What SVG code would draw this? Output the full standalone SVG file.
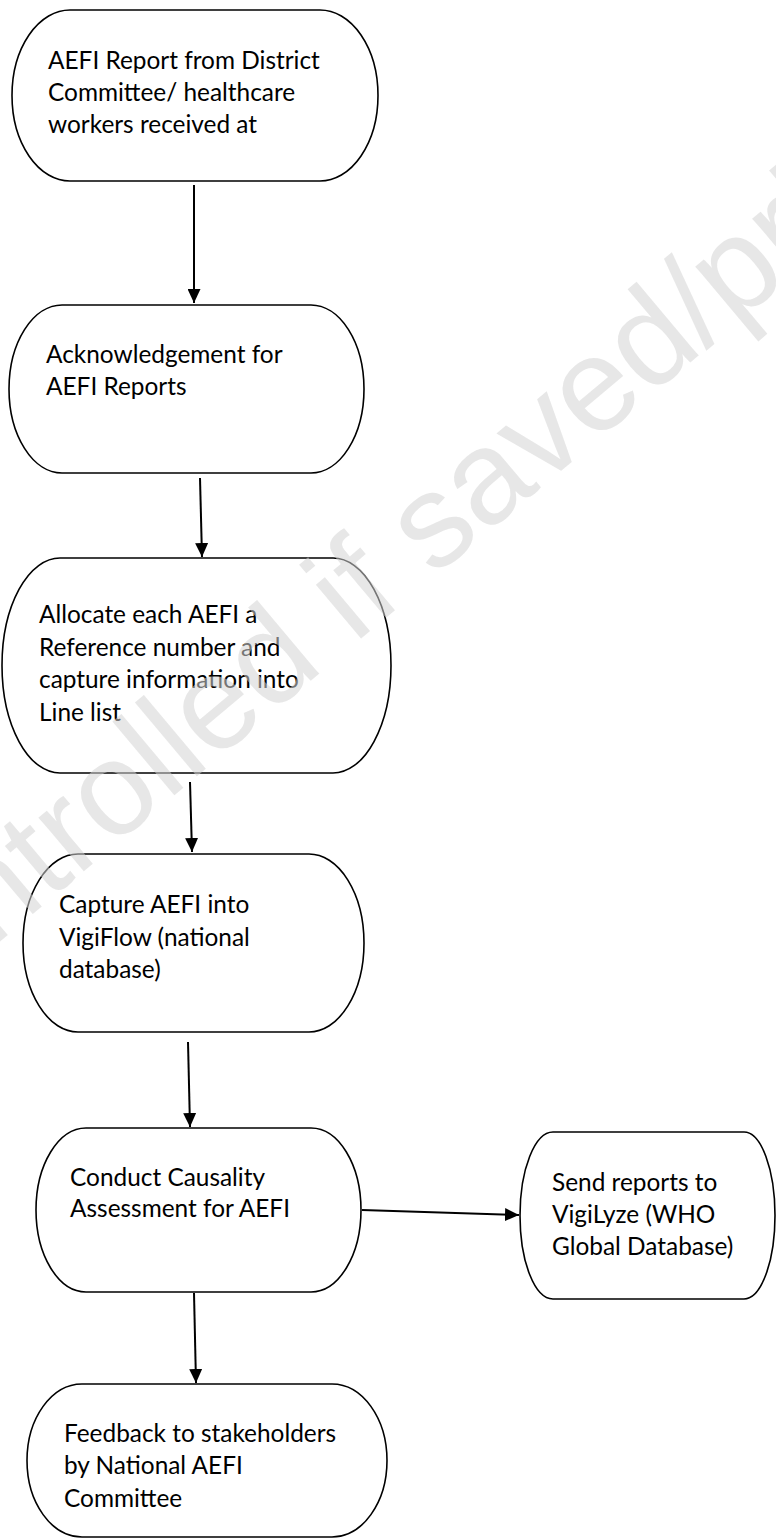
<svg xmlns="http://www.w3.org/2000/svg" width="776" height="1540" viewBox="0 0 776 1540">
<style>
.n{fill:none;stroke:#000;stroke-width:1.6}
.t{font-family:Lato,"Liberation Sans",sans-serif;font-size:24.4px;fill:#000}
.c{stroke:#000;stroke-width:2;fill:none}
.wm{font-family:"Liberation Sans",Arial,sans-serif;font-size:133px;fill:#d4d4d4;fill-opacity:0.55}
</style>
<defs>
<marker id="ah" markerUnits="userSpaceOnUse" markerWidth="14" markerHeight="13" refX="14" refY="6.5" orient="auto">
<path d="M0,0 L14,6.5 L0,13 z" fill="#000"/>
</marker>
</defs>
<rect width="776" height="1540" fill="#fff"/>
<g id="node1">
<path class="n" d="M70,10 H320 A58,85.5 0 0 1 320,181 H70 A58,85.5 0 0 1 70,10 Z"/>
<text class="t"><tspan x="48" y="69">AEFI Report from District</tspan><tspan x="48" y="101">Committee/ healthcare</tspan><tspan x="48" y="133">workers received at</tspan></text>
</g>
<g id="node2">
<path class="n" d="M62,305 H311 A53,84 0 0 1 311,473 H62 A53,84 0 0 1 62,305 Z"/>
<text class="t"><tspan x="46" y="363">Acknowledgement for</tspan><tspan x="46" y="395">AEFI Reports</tspan></text>
</g>
<g id="node3">
<path class="n" d="M60,558 H333 A58,107.5 0 0 1 333,773 H60 A58,107.5 0 0 1 60,558 Z"/>
<text class="t"><tspan x="39" y="623">Allocate each AEFI a</tspan><tspan x="39" y="656">Reference number and</tspan><tspan x="39" y="688">capture information into</tspan><tspan x="39" y="721">Line list</tspan></text>
</g>
<g id="node4">
<path class="n" d="M78,854 H309 A55,89 0 0 1 309,1032 H78 A55,89 0 0 1 78,854 Z"/>
<text class="t"><tspan x="59" y="913">Capture AEFI into</tspan><tspan x="59" y="946">VigiFlow (national</tspan><tspan x="59" y="978">database)</tspan></text>
</g>
<g id="node5">
<path class="n" d="M86,1128 H311 A50,82 0 0 1 311,1292 H86 A50,82 0 0 1 86,1128 Z"/>
<text class="t"><tspan x="70" y="1186">Conduct Causality</tspan><tspan x="70" y="1217">Assessment for AEFI</tspan></text>
</g>
<g id="node6">
<path class="n" d="M82,1384 H332 A55,76.5 0 0 1 332,1537 H82 A55,76.5 0 0 1 82,1384 Z"/>
<text class="t"><tspan x="64" y="1442">Feedback to stakeholders</tspan><tspan x="64" y="1474">by National AEFI</tspan><tspan x="64" y="1507">Committee</tspan></text>
</g>
<g id="node7">
<path class="n" d="M553,1132 H744 A31,83.5 0 0 1 744,1299 H553 A33,83.5 0 0 1 553,1132 Z"/>
<text class="t"><tspan x="552" y="1191">Send reports to</tspan><tspan x="552" y="1223">VigiLyze (WHO</tspan><tspan x="552" y="1255">Global Database)</tspan></text>
</g>
<g id="connectors">
<line class="c" x1="194" y1="185" x2="194" y2="303" marker-end="url(#ah)"/>
<line class="c" x1="200" y1="478" x2="202" y2="557" marker-end="url(#ah)"/>
<line class="c" x1="190" y1="782" x2="192" y2="852" marker-end="url(#ah)"/>
<line class="c" x1="188" y1="1042" x2="190" y2="1127" marker-end="url(#ah)"/>
<line class="c" x1="194" y1="1293" x2="196" y2="1383" marker-end="url(#ah)"/>
<line class="c" x1="362" y1="1210" x2="519" y2="1215" marker-end="url(#ah)"/>
</g>
<text class="wm" transform="translate(-246,1148) rotate(-40)">Uncontrolled if saved/printed</text>
</svg>
